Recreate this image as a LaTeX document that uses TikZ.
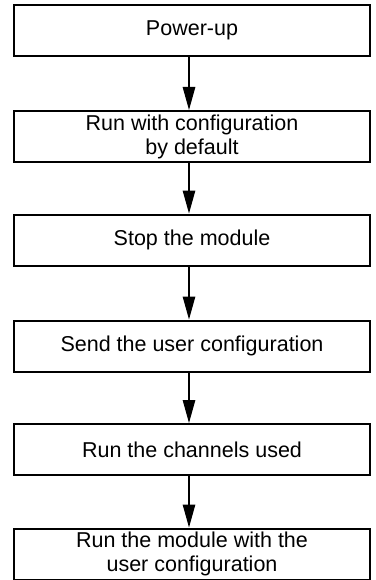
\documentclass[tikz,border=0pt]{standalone}
\usepackage{fontspec}
\setmainfont{Liberation Sans}
\usetikzlibrary{arrows.meta}
\begin{document}
\begin{tikzpicture}[x=1pt,y=-1pt,
  stepbox/.style={draw=black, line width=2pt, minimum width=356pt, minimum height=51pt,
    inner sep=0pt, align=center, font=\fontsize{21.5}{24}\selectfont},
  flow/.style={line width=1.2pt, -{Triangle[length=23pt,width=12.5pt]}}]
  \useasboundingbox (0,0) rectangle (375,580);
  \node[stepbox] (b1) at (192,30.5) {Power-up};
  \node[stepbox] (b2) at (192,136.5) {Run with configuration\\by default};
  \node[stepbox] (b3) at (192,240) {Stop the module};
  \node[stepbox] (b4) at (192,346) {Send the user configuration};
  \node[stepbox] (b5) at (192,449.5) {Run the channels used};
  \node[stepbox] (b6) at (192,554) {Run the module with the\\user configuration};
  \foreach \a/\b in {b1/b2,b2/b3,b3/b4,b4/b5,b5/b6}
    \draw[flow] ([xshift=-3pt]\a.south) -- ([xshift=-3pt]\b.north);
\end{tikzpicture}
\end{document}
